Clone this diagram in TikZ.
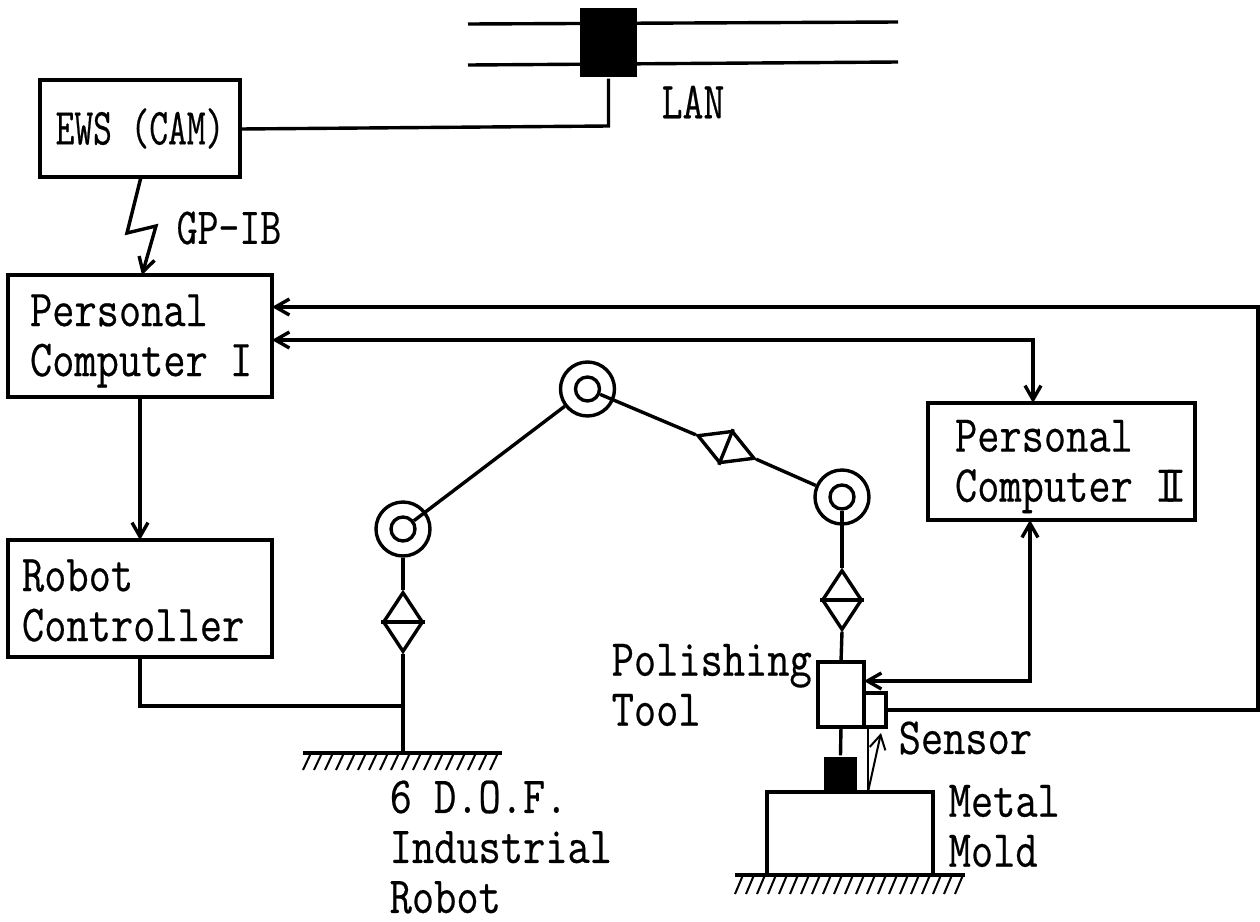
\documentclass[tikz,border=0pt]{standalone}
\usepackage{fontspec}
\setmonofont[FakeStretch=0.83,FakeBold=0.4]{Latin Modern Mono}
\newfontfamily\camfont[FakeStretch=0.7,FakeBold=0.4]{Latin Modern Mono}
\newfontfamily\lanfont[FakeStretch=0.78,FakeBold=0.4]{Latin Modern Mono}
\usetikzlibrary{arrows.meta,positioning,shapes.geometric}

\begin{document}
\begin{tikzpicture}[x=0.5pt,y=-0.5pt,>={Straight Barb[length=7pt,width=8pt]},line width=1.7pt,
 font=\fontsize{26}{25}\selectfont\ttfamily,
 block/.style={draw,align=left,inner sep=0pt,outer sep=0pt},
 lab/.style={anchor=west,align=left,inner sep=0pt},
 jointout/.style={draw,circle,inner sep=0pt,minimum size=27pt},
 jointin/.style={draw,circle,inner sep=0pt,minimum size=12pt},
 hinge/.style={draw,diamond,inner sep=0pt,minimum width=20pt,minimum height=30pt,shape aspect=0.67},
 hatch/.style={line width=1pt}]
\useasboundingbox (0,0) rectangle (1260,922);

\node[block,minimum width=100pt,minimum height=48.5pt] (ews) at (140,128.5) {\camfont EWS (CAM)};
\node[block,minimum width=132pt,minimum height=61pt] (pc1) at (140,336) {\parbox{110pt}{\vspace{5pt}Personal\\\mbox{Computer I}}};
\node[block,minimum width=132pt,minimum height=58.5pt] (rc) at (140,598.5) {\parbox{118pt}{\vspace{2pt}Robot\\Controller}};
\node[block,minimum width=133.5pt,minimum height=58.5pt] (pc2) at (1061.5,461.5) {\parbox{106.5pt}{\vspace{5pt}Personal\\\mbox{Computer I\kern-.26em I}}};

% LAN
\node[fill=black,inner sep=0pt,minimum width=28.5pt,minimum height=34.5pt] (tap) at (608.5,42.5) {};
\draw (468,24) -- (898,22);
\draw (468,65) -- (898,62);
\node[lab,font=\fontsize{26}{25}\selectfont\lanfont] (lan) at (660,102) {LAN};
\coordinate (lanjoin) at (tap.south |- 0,126);
\draw (ews.east |- 0,129) -- (lanjoin) -- (tap.south);

% GP-IB
\coordinate (ewsout) at (141,177);
\coordinate (zig1) at (127,233);
\coordinate (zig2) at (156,226);
\draw[->] (ewsout) -- (zig1) -- (zig2) -- (142,275);
\node[lab,font=\fontsize{26}{25}\selectfont\lanfont] (gpib) at (175,228) {GP-IB};

\draw[->] (pc1.south) -- (rc.north);

% robot
\node[jointout] (jointA) at (403,529) {};
\node[jointin] (jointAin) at (403,529) {};
\node[jointout] (jointB) at (587.5,389) {};
\node[jointin] (jointBin) at (587.5,389) {};
\node[jointout] (jointC) at (842,497) {};
\node[jointin] (jointCin) at (842,497) {};
\node[hinge] (hingeA) at (403,622) {};
\node[hinge] (hingeD) at (842,600) {};
\node[hinge,rotate=-112,minimum width=17.5pt,minimum height=30.8pt] (hingeC) at (726,447) {};
\draw (hingeA.west) -- (hingeA.east);
\draw (hingeD.west) -- (hingeD.east);
\draw (hingeC.west) -- (hingeC.east);
\draw (jointAin) -- (jointB);
\draw (jointBin) -- (hingeC.south);
\draw (hingeC.north) -- (jointC);
\draw (jointA) -- (hingeA.north);
\draw (jointCin) -- (hingeD.north);

% grounds
\coordinate (gndA) at (303,753);
\coordinate (gndB) at (502,753);
\draw (gndA) -- (gndB);
\foreach \x in {311,322,...,500} {\draw[hatch] (\x,753) -- ++(-8,17);}
\draw (hingeA.south) -- (hingeA.south |- gndA);
\coordinate (base) at (403,706);
\draw (rc.south) |- (base);
\node[lab] (dof) at (388,847) {6 D.O.F.\\Industrial\\Robot};

% tool and mold
\node[block,minimum width=23pt,minimum height=32.5pt] (tool) at (841,694.5) {};
\node[block,minimum width=11pt,minimum height=17pt] (sensor) at (875,710) {};
\node[block,minimum width=83pt,minimum height=41.5pt] (mold) at (850,833.5) {};
\node[fill=black,inner sep=0pt,minimum width=16.5pt,minimum height=17.5pt] (pad) at (840.5,774.5) {};
\draw (hingeD.south) -- (tool.north);
\draw (tool.south) -- (pad.north);
\coordinate (spot) at (868,792);
\draw[line width=1pt] (spot |- tool.south) -- (spot);
\coordinate (echo) at (881,733);
\draw[line width=1pt,->] (spot) -- (echo);
\coordinate (gndC) at (735,875);
\coordinate (gndD) at (965,875);
\draw (gndC) -- (gndD);
\foreach \x in {743,754,...,965} {\draw[hatch] (\x,875) -- ++(-8,19);}
\node[lab] (toollab) at (610,685) {Polishing\\Tool};
\node[lab] (senslab) at (897,738) {Sensor};
\node[lab] (moldlab) at (947,826) {Metal\\Mold};

% signal lines
\coordinate (fbk) at (1258,307);
\coordinate (cmd) at (1033,340);
\coordinate (tooltap) at (1030,681);
\draw[->] (sensor.east) -- (fbk |- sensor.east) -- (fbk) -- (pc1.east |- fbk);
\draw[<->] (pc1.east |- cmd) -- (cmd) -- (pc2.north -| cmd);
\draw[<->] (pc2.south -| tooltap) -- (tooltap) -- (tool.east |- tooltap);
\end{tikzpicture}
\end{document}
